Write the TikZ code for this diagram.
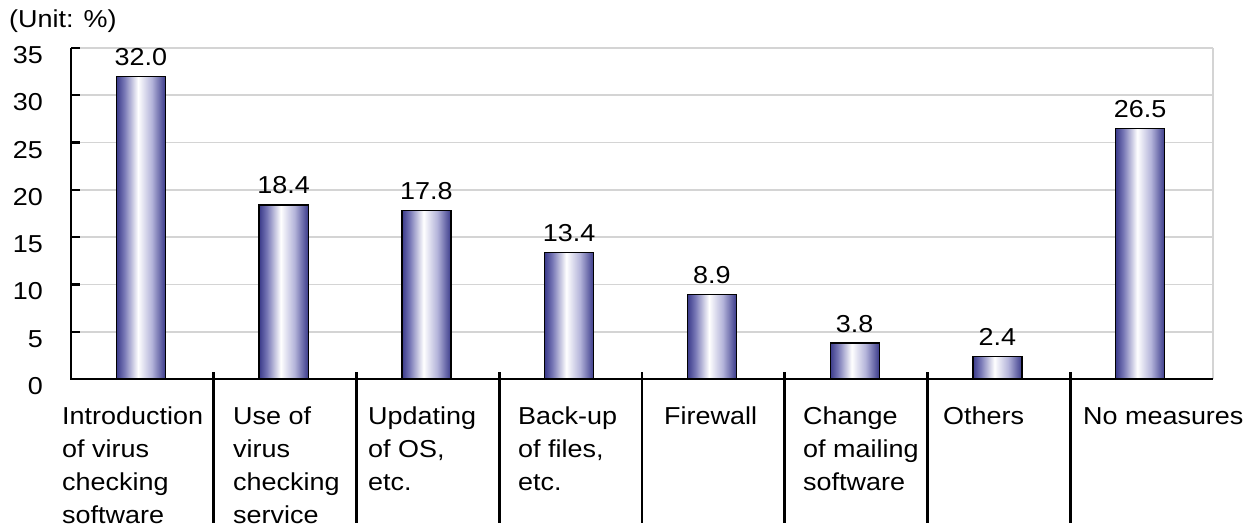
\documentclass[tikz,border=0pt]{standalone}
\usepackage{fontspec}
\setmainfont{Liberation Sans}[FakeStretch=1.1]
\usepackage{tikz}
\usetikzlibrary{positioning}

\definecolor{bardark}{RGB}{58,58,138}
\definecolor{barmid}{RGB}{120,120,182}
\definecolor{barlite}{RGB}{180,180,218}
\definecolor{gridgray}{RGB}{212,212,212}

% the visible part of the shading runs from 25bp to 75bp
\pgfdeclarehorizontalshading{barshade}{100bp}{color(0bp)=(bardark); color(25bp)=(bardark); color(33bp)=(barmid); color(47bp)=(white); color(61bp)=(barlite); color(75bp)=(bardark); color(100bp)=(bardark)}

\tikzset{
  chartfont/.style={font=\fontsize{24.5}{33}\selectfont, inner sep=0pt},
  gridline/.style={gridgray, line width=1.6pt},
  axisline/.style={black, line width=2.4pt},
  catsep/.style={black, line width=2.8pt},
  barbox/.style={draw=black, line width=1.3pt, shade, shading=barshade},
  valuelabel/.style={chartfont, anchor=base},
  ticklabel/.style={chartfont, anchor=base east},
  catlabel/.style={chartfont, anchor=north west, align=left}
}

\begin{document}
\begin{tikzpicture}[x=1pt, y=-1pt]
\useasboundingbox (0,0) rectangle (1251,527);

\node[chartfont, anchor=base west] (unit) at (9,28) {(Unit: \%)};

% plot area: one unit across per item, 9.457pt per percent
\begin{scope}[shift={(71,379)}, x=142.75pt, y=9.457pt]

\begin{scope}[gridline]
\draw (0,5)--(8,5);
\draw (0,10)--(8,10);
\draw (0,15)--(8,15);
\draw (0,20)--(8,20);
\draw (0,25)--(8,25);
\draw (0,30)--(8,30);
\draw (0,35)--(8,35);
\draw (8,0)--(8,35);
\end{scope}

\draw[barbox] (0.318,0) rectangle (0.662,32.0);
\draw[barbox] (1.318,0) rectangle (1.662,18.4);
\draw[barbox] (2.318,0) rectangle (2.662,17.8);
\draw[barbox] (3.318,0) rectangle (3.662,13.4);
\draw[barbox] (4.318,0) rectangle (4.662,8.9);
\draw[barbox] (5.318,0) rectangle (5.662,3.8);
\draw[barbox] (6.318,0) rectangle (6.662,2.4);
\draw[barbox] (7.318,0) rectangle (7.662,26.5);

\node[valuelabel] (v1) at ([yshift=11pt]0.49,32.0) {32.0};
\node[valuelabel] (v2) at ([yshift=11pt]1.49,18.4) {18.4};
\node[valuelabel] (v3) at ([yshift=11pt]2.49,17.8) {17.8};
\node[valuelabel] (v4) at ([yshift=11pt]3.49,13.4) {13.4};
\node[valuelabel] (v5) at ([yshift=11pt]4.49,8.9) {8.9};
\node[valuelabel] (v6) at ([yshift=11pt]5.49,3.8) {3.8};
\node[valuelabel] (v7) at ([yshift=11pt]6.49,2.4) {2.4};
\node[valuelabel] (v8) at ([yshift=11pt]7.49,26.5) {26.5};

\begin{scope}[axisline]
\draw (0,35)--(0,0)--(8,0);
\draw (0,5)--++(9pt,0);
\draw (0,10)--++(9pt,0);
\draw (0,15)--++(9pt,0);
\draw (0,20)--++(9pt,0);
\draw (0,25)--++(9pt,0);
\draw (0,30)--++(9pt,0);
\draw (0,35)--++(9pt,0);
\end{scope}

\node[ticklabel] (y0) at ([xshift=-28pt, yshift=-15.5pt]0,0) {0};
\node[ticklabel] (y5) at ([xshift=-28pt, yshift=-15.5pt]0,5) {5};
\node[ticklabel] (y10) at ([xshift=-28pt, yshift=-15.5pt]0,10) {10};
\node[ticklabel] (y15) at ([xshift=-28pt, yshift=-15.5pt]0,15) {15};
\node[ticklabel] (y20) at ([xshift=-28pt, yshift=-15.5pt]0,20) {20};
\node[ticklabel] (y25) at ([xshift=-28pt, yshift=-15.5pt]0,25) {25};
\node[ticklabel] (y30) at ([xshift=-28pt, yshift=-15.5pt]0,30) {30};
\node[ticklabel] (y35) at ([xshift=-28pt, yshift=-15.5pt]0,35) {35};

\begin{scope}[catsep]
\draw ([yshift=7pt]1,0)--([yshift=-144pt]1,0);
\draw ([yshift=7pt]2,0)--([yshift=-144pt]2,0);
\draw ([yshift=7pt]3,0)--([yshift=-144pt]3,0);
\draw ([yshift=7pt]4,0)--([yshift=-144pt]4,0);
\draw ([yshift=7pt]5,0)--([yshift=-144pt]5,0);
\draw ([yshift=7pt]6,0)--([yshift=-144pt]6,0);
\draw ([yshift=7pt]7,0)--([yshift=-144pt]7,0);
\end{scope}

\end{scope}

% item names under the axis
\node[catlabel] (c1) at (62,407) {Introduction\\of virus\\checking\\software};
\node[catlabel] (c2) at (233,407) {Use of\\virus\\checking\\service};
\node[catlabel] (c3) at (368,407) {Updating\\of OS,\\etc.};
\node[catlabel] (c4) at (518,407) {Back-up\\of files,\\etc.};
\node[catlabel] (c5) at (664,407) {Firewall};
\node[catlabel] (c6) at (803,407) {Change\\of mailing\\software};
\node[catlabel] (c7) at (943,407) {Others};
\node[catlabel] (c8) at (1083,407) {No measures};

\end{tikzpicture}
\end{document}
